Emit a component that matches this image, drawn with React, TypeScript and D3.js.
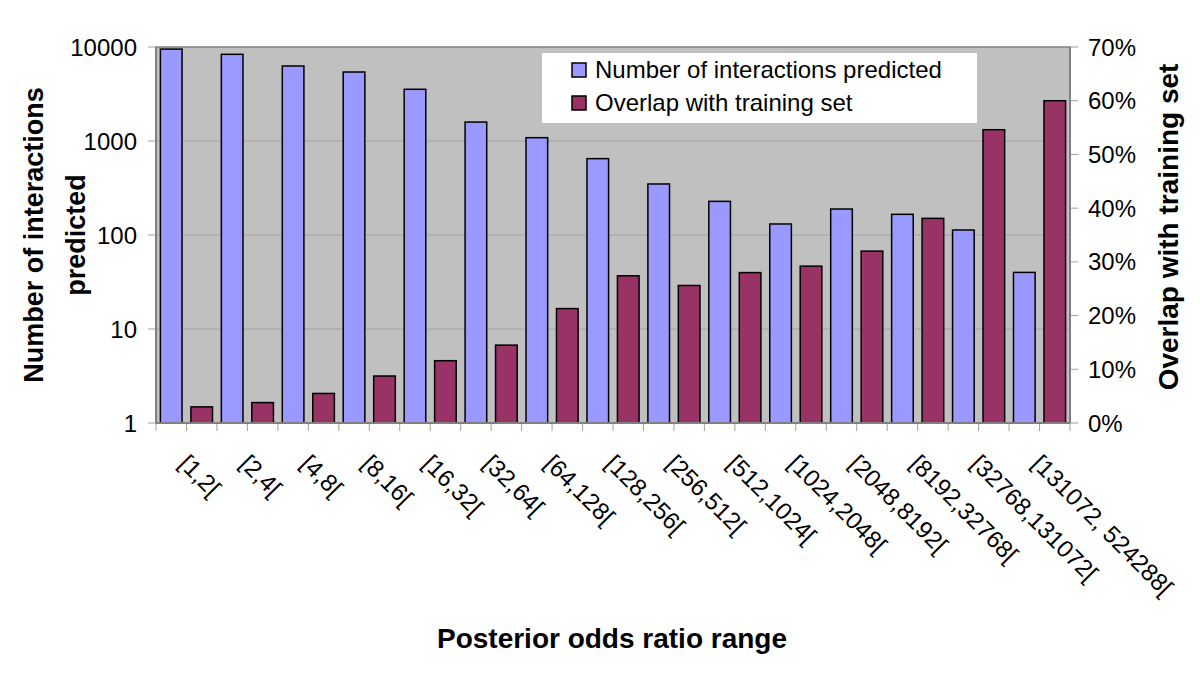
import React, { useEffect } from "react";
import * as d3 from "d3";

const categories = [
  "[1,2[", "[2,4[", "[4,8[", "[8,16[", "[16,32[", "[32,64[", "[64,128[",
  "[128,256[", "[256,512[", "[512,1024[", "[1024,2048[", "[2048,8192[",
  "[8192,32768[", "[32768,131072[", "[131072, 524288[",
];
const interactionsPredicted = [9500, 8360, 6280, 5420, 3550, 1590, 1085, 649, 349, 228, 131, 189, 166, 113, 40];
const overlapWithTraining = [0.030, 0.038, 0.055, 0.0875, 0.116, 0.145, 0.213, 0.274, 0.256, 0.280, 0.292, 0.320, 0.381, 0.546, 0.600];
const leftTicks = [1, 10, 100, 1000, 10000];
const rightTicks = [0, 0.1, 0.2, 0.3, 0.4, 0.5, 0.6, 0.7];
const seriesNames = ["Number of interactions predicted", "Overlap with training set"];
const seriesColors = ["#9999FF", "#993366"];

const W = 1200, H = 673;
const L = 156, R = 1070, T = 47, B = 423;
const FONT = "'Liberation Sans', Arial, sans-serif";

export default function App() {
  useEffect(() => { document.body.style.margin = "0"; }, []);

  const slots = d3.range(categories.length * 2);
  const x = d3.scaleBand<number>().domain(slots).range([L, R]).padding(0);
  const yLog = d3.scaleLog().domain([1, 10000]).range([B, T]);
  const yPct = d3.scaleLinear().domain([0, 0.7]).range([B, T]);
  const bw = x.bandwidth() * 0.71;
  const fmtPct = d3.format(".0%");

  return (
    <svg width={W} height={H} style={{ display: "block", position: "absolute", left: 0, top: 0, background: "#fff" }} fontFamily={FONT}>
      <rect x={0} y={0} width={W} height={H} fill="#fff" />
      {/* plot area */}
      <rect x={L} y={T} width={R - L} height={B - T} fill="#C0C0C0" stroke="#808080" strokeWidth={1.5} />
      {/* gridlines */}
      {leftTicks.slice(1, -1).map((t) => (
        <line key={"g" + t} x1={L} x2={R} y1={yLog(t)} y2={yLog(t)} stroke="#a4a4a4" strokeWidth={1} />
      ))}
      {/* x tick marks */}
      {d3.range(slots.length + 1).map((i) => {
        const xx = L + i * x.step();
        return <line key={"xt" + i} x1={xx} x2={xx} y1={B} y2={B + 8} stroke="#a0a0a0" strokeWidth={1} />;
      })}
      {/* left ticks */}
      {leftTicks.map((t) => (
        <g key={"lt" + t}>
          <line x1={L - 8} x2={L} y1={yLog(t)} y2={yLog(t)} stroke="#a0a0a0" />
          <text x={137} y={yLog(t)} textAnchor="end" dominantBaseline="central" fontSize={24}>{t}</text>
        </g>
      ))}
      {/* right ticks */}
      {rightTicks.map((t) => (
        <g key={"rt" + t}>
          <line x1={R} x2={R + 8} y1={yPct(t)} y2={yPct(t)} stroke="#a0a0a0" />
          <text x={1088} y={yPct(t)} textAnchor="start" dominantBaseline="central" fontSize={24}>{fmtPct(t)}</text>
        </g>
      ))}
      {/* bars */}
      {interactionsPredicted.map((v, i) => {
        const cx = (x(2 * i) as number) + x.bandwidth() / 2;
        return <rect key={"b" + i} x={cx - bw / 2} y={yLog(v)} width={bw} height={B - yLog(v)} fill={seriesColors[0]} stroke="#000" strokeWidth={1.5} />;
      })}
      {overlapWithTraining.map((v, i) => {
        const cx = (x(2 * i + 1) as number) + x.bandwidth() / 2;
        return <rect key={"m" + i} x={cx - bw / 2} y={yPct(v)} width={bw} height={B - yPct(v)} fill={seriesColors[1]} stroke="#000" strokeWidth={1.5} />;
      })}
      {/* axis lines */}
      <line x1={L} x2={L} y1={T} y2={B} stroke="#808080" strokeWidth={2} />
      <line x1={R} x2={R} y1={T} y2={B} stroke="#808080" strokeWidth={2} />
      <line x1={L} x2={R} y1={B} y2={B} stroke="#808080" strokeWidth={2} />
      {/* x labels */}
      {categories.map((c, i) => {
        const cx = L + (2 * i + 1) * x.step() - 3;
        const cy = 459;
        return (
          <text key={"xl" + i} x={cx} y={cy} transform={`rotate(45 ${cx} ${cy})`} textAnchor="start" dominantBaseline="central" fontSize={24}>{c}</text>
        );
      })}
      {/* legend */}
      <rect x={542} y={53} width={435} height={70} fill="#fff" />
      {seriesNames.map((n, i) => (
        <g key={"lg" + i}>
          <rect x={572} y={63 + i * 33} width={14} height={14} fill={seriesColors[i]} stroke="#000" strokeWidth={1.5} />
          <text x={595} y={78 + i * 33} fontSize={24}>{n}</text>
        </g>
      ))}
      {/* titles */}
      <text transform="translate(43,235) rotate(-90)" textAnchor="middle" fontSize={27} fontWeight="bold">Number of interactions</text>
      <text transform="translate(85,235) rotate(-90)" textAnchor="middle" fontSize={27} fontWeight="bold">predicted</text>
      <text transform="translate(1178,227) rotate(-90)" textAnchor="middle" fontSize={28} fontWeight="bold">Overlap with training set</text>
      <text x={612} y={648} textAnchor="middle" fontSize={28} fontWeight="bold">Posterior odds ratio range</text>
    </svg>
  );
}
